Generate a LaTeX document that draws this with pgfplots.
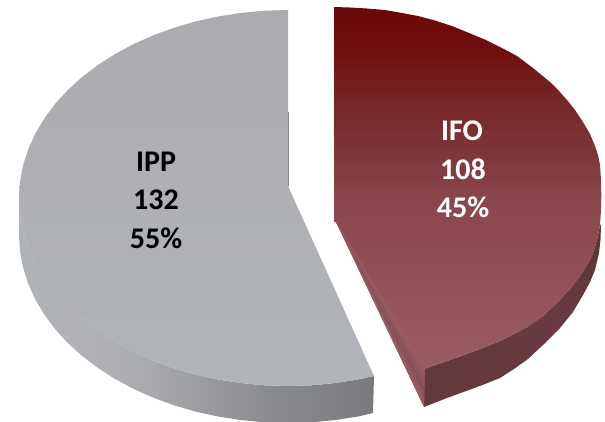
\documentclass[border=0pt]{standalone}
\usepackage{pgfplots}
\usepackage{fontspec}
\setmainfont{Carlito}
\pgfplotsset{compat=1.18}
\definecolor{rts0}{HTML}{995C60}\definecolor{rts1}{HTML}{925157}\definecolor{rts2}{HTML}{8A474B}
\definecolor{rts3}{HTML}{80383C}\definecolor{rts4}{HTML}{762626}\definecolor{rts5}{HTML}{6F0E0E}\definecolor{rts6}{HTML}{680809}
\definecolor{gs0}{HTML}{AFB3B6}\definecolor{gs1}{HTML}{B0B2B6}\definecolor{gs2}{HTML}{ACAEB1}
\definecolor{gs3}{HTML}{9C9EA2}\definecolor{gs4}{HTML}{888A8E}\definecolor{gs5}{HTML}{787A7E}
\definecolor{rs0}{HTML}{64393B}\definecolor{rs1}{HTML}{66393B}\definecolor{rs2}{HTML}{6A3B42}\definecolor{rs3}{HTML}{5E3638}
\definecolor{graytopA}{HTML}{ABACB0}\definecolor{graytopB}{HTML}{B1B4B8}
% path box covers 25bp..75bp of each shading
\pgfdeclareverticalshading{redtop}{100bp}{
 color(0bp)=(rts0); color(25bp)=(rts0); color(37.25bp)=(rts1); color(48.5bp)=(rts2); color(54bp)=(rts3);
 color(62bp)=(rts4); color(69.5bp)=(rts5); color(75bp)=(rts6); color(100bp)=(rts6)}
\pgfdeclarehorizontalshading{grayside}{100bp}{
 color(0bp)=(gs0); color(25bp)=(gs0); color(33.5bp)=(gs1); color(40.5bp)=(gs2); color(50bp)=(gs3);
 color(61.5bp)=(gs4); color(75bp)=(gs5); color(100bp)=(gs5)}
\pgfdeclarehorizontalshading{redside}{100bp}{
 color(0bp)=(rs0); color(25bp)=(rs0); color(46.5bp)=(rs1); color(63bp)=(rs2); color(75bp)=(rs3); color(100bp)=(rs3)}
\begin{document}
\begin{tikzpicture}
\begin{axis}[
  scale only axis, width=605pt, height=421pt,
  xmin=0, xmax=605, ymin=0, ymax=421, y dir=reverse,
  hide axis, clip=true,
  every axis plot/.append style={draw=none, mark=none, line width=0pt},
]
% grey side wall
\addplot[shade, shading=grayside] coordinates {
 (19,198)(20,214.4)(23.1,230.6)(28.2,246.7)(35.2,262.3)(44.2,277.4)(55,292)(67.6,305.8)(81.9,318.8)
 (97.8,330.9)(115.1,342)(133.7,352)(153.5,360.8)(174.3,368.4)(196,374.7)(218.4,379.6)(241.3,383.1)
 (264.5,385.3)(288,386)(311.5,385.3)(334.7,383.1)(357.6,379.6)(374,376)
 (373,413)(357.6,416.6)(334.7,420.1)(311.5,422.3)(288,423)(264.5,422.3)(241.3,420.1)(218.4,416.6)
 (196,411.7)(174.3,405.4)(153.5,397.8)(133.7,389)(115.1,379)(97.8,367.9)(81.9,355.8)(67.6,342.8)
 (55,329)(44.2,314.4)(35.2,299.3)(28.2,283.7)(23.1,267.6)(20,251.4)(19,235)(19,198)
} -- cycle;
% grey top
\addplot[top color=graytopA, bottom color=graytopB] coordinates {
 (288,10)(264.5,10.7)(241.3,12.9)(218.4,16.4)(196,21.3)(174.3,27.6)(153.5,35.2)(133.7,44)(115.1,54)
 (97.8,65.1)(81.9,77.2)(67.6,90.2)(55,104)(44.2,118.6)(35.2,133.7)(28.2,149.3)(23.1,165.4)(20,181.6)
 (19,198)(20,214.4)(23.1,230.6)(28.2,246.7)(35.2,262.3)(44.2,277.4)(55,292)(67.6,305.8)(81.9,318.8)
 (97.8,330.9)(115.1,342)(133.7,352)(153.5,360.8)(174.3,368.4)(196,374.7)(218.4,379.6)(241.3,383.1)
 (264.5,385.3)(288,386)(311.5,385.3)(334.7,383.1)(357.6,379.6)(374,376)(288,186)
} -- cycle;
% thin dark line on the grey cut edge
\addplot[draw={rgb,255:red,134;green,136;blue,140}, line width=1pt] coordinates {(288,112)(288,186)};
% red side wall
\addplot[shade, shading=redside] coordinates {
 (424,369)(447,361)(469,353)(485,347)(500,341)(514,334)(527,327)(543,316)(557,303)(570,289)(582,273)
 (588,263)(593,253)(597,240)(600,225)(601,225)(600.5,240)(599,253)(595,270)(590,282)(583,295)(573,312)(560,328)
 (543,345)(528,359)(514,369)(500,378)(485,384)(469,390)(447,398)(424,407)
} -- cycle;
% red top
\addplot[shade, shading=redtop] coordinates {
 (334,7)(350,7.5)(367,8.5)(385,10)(402,13)(418,16)(435,20.5)(452,26)(469,33)(486,40)(502,48)(517,56)
 (533,68)(550,82)(559,91)(567,100)(575,110)(583,122)(590,134)(595,146)(598,155)(600,165)(601,180)
 (601.3,195)(601,210)(600,225)(597,240)(593,253)(588,263)(582,273)(570,289)(557,303)(543,316)(527,327)
 (514,334)(500,341)(485,347)(469,353)(447,361)(425,369)(336,222)(334,222)
} -- cycle;
% red cut wall: base, then strips from outer edge to top surface
\addplot[fill={rgb,255:red,142;green,86;blue,90}] coordinates {(336,222)(424,407)(425,369)} -- cycle;
\addplot[fill={rgb,255:red,152;green,90;blue,94}] coordinates {(336,222)(424,407)(424.2,399.4)} -- cycle;
\addplot[fill={rgb,255:red,140;green,86;blue,90}] coordinates {(336,222)(424.2,399.4)(424.3,393.7)} -- cycle;
\addplot[fill={rgb,255:red,132;green,82;blue,86}] coordinates {(336,222)(424.3,393.7)(424.5,388)} -- cycle;
\addplot[fill={rgb,255:red,140;green,85;blue,89}] coordinates {(336,222)(424.5,388)(424.8,378.5)} -- cycle;
\addplot[fill={rgb,255:red,150;green,89;blue,93}] coordinates {(336,222)(424.8,378.5)(425,369)} -- cycle;
% labels
\node[font=\fontsize{30}{30}\selectfont\bfseries, text=black] at (axis cs:156,162) {IPP};
\node[font=\fontsize{30}{30}\selectfont\bfseries, text=black] at (axis cs:156,200) {132};
\node[font=\fontsize{30}{30}\selectfont\bfseries, text=black] at (axis cs:156,238) {55\%};
\node[font=\fontsize{30}{30}\selectfont\bfseries, text=white] at (axis cs:462,131) {IFO};
\node[font=\fontsize{30}{30}\selectfont\bfseries, text=white] at (axis cs:463,169) {108};
\node[font=\fontsize{30}{30}\selectfont\bfseries, text=white] at (axis cs:463,207) {45\%};
\end{axis}
\pgfresetboundingbox
\path (current axis.south west) rectangle (current axis.north east);
\end{tikzpicture}
\end{document}
